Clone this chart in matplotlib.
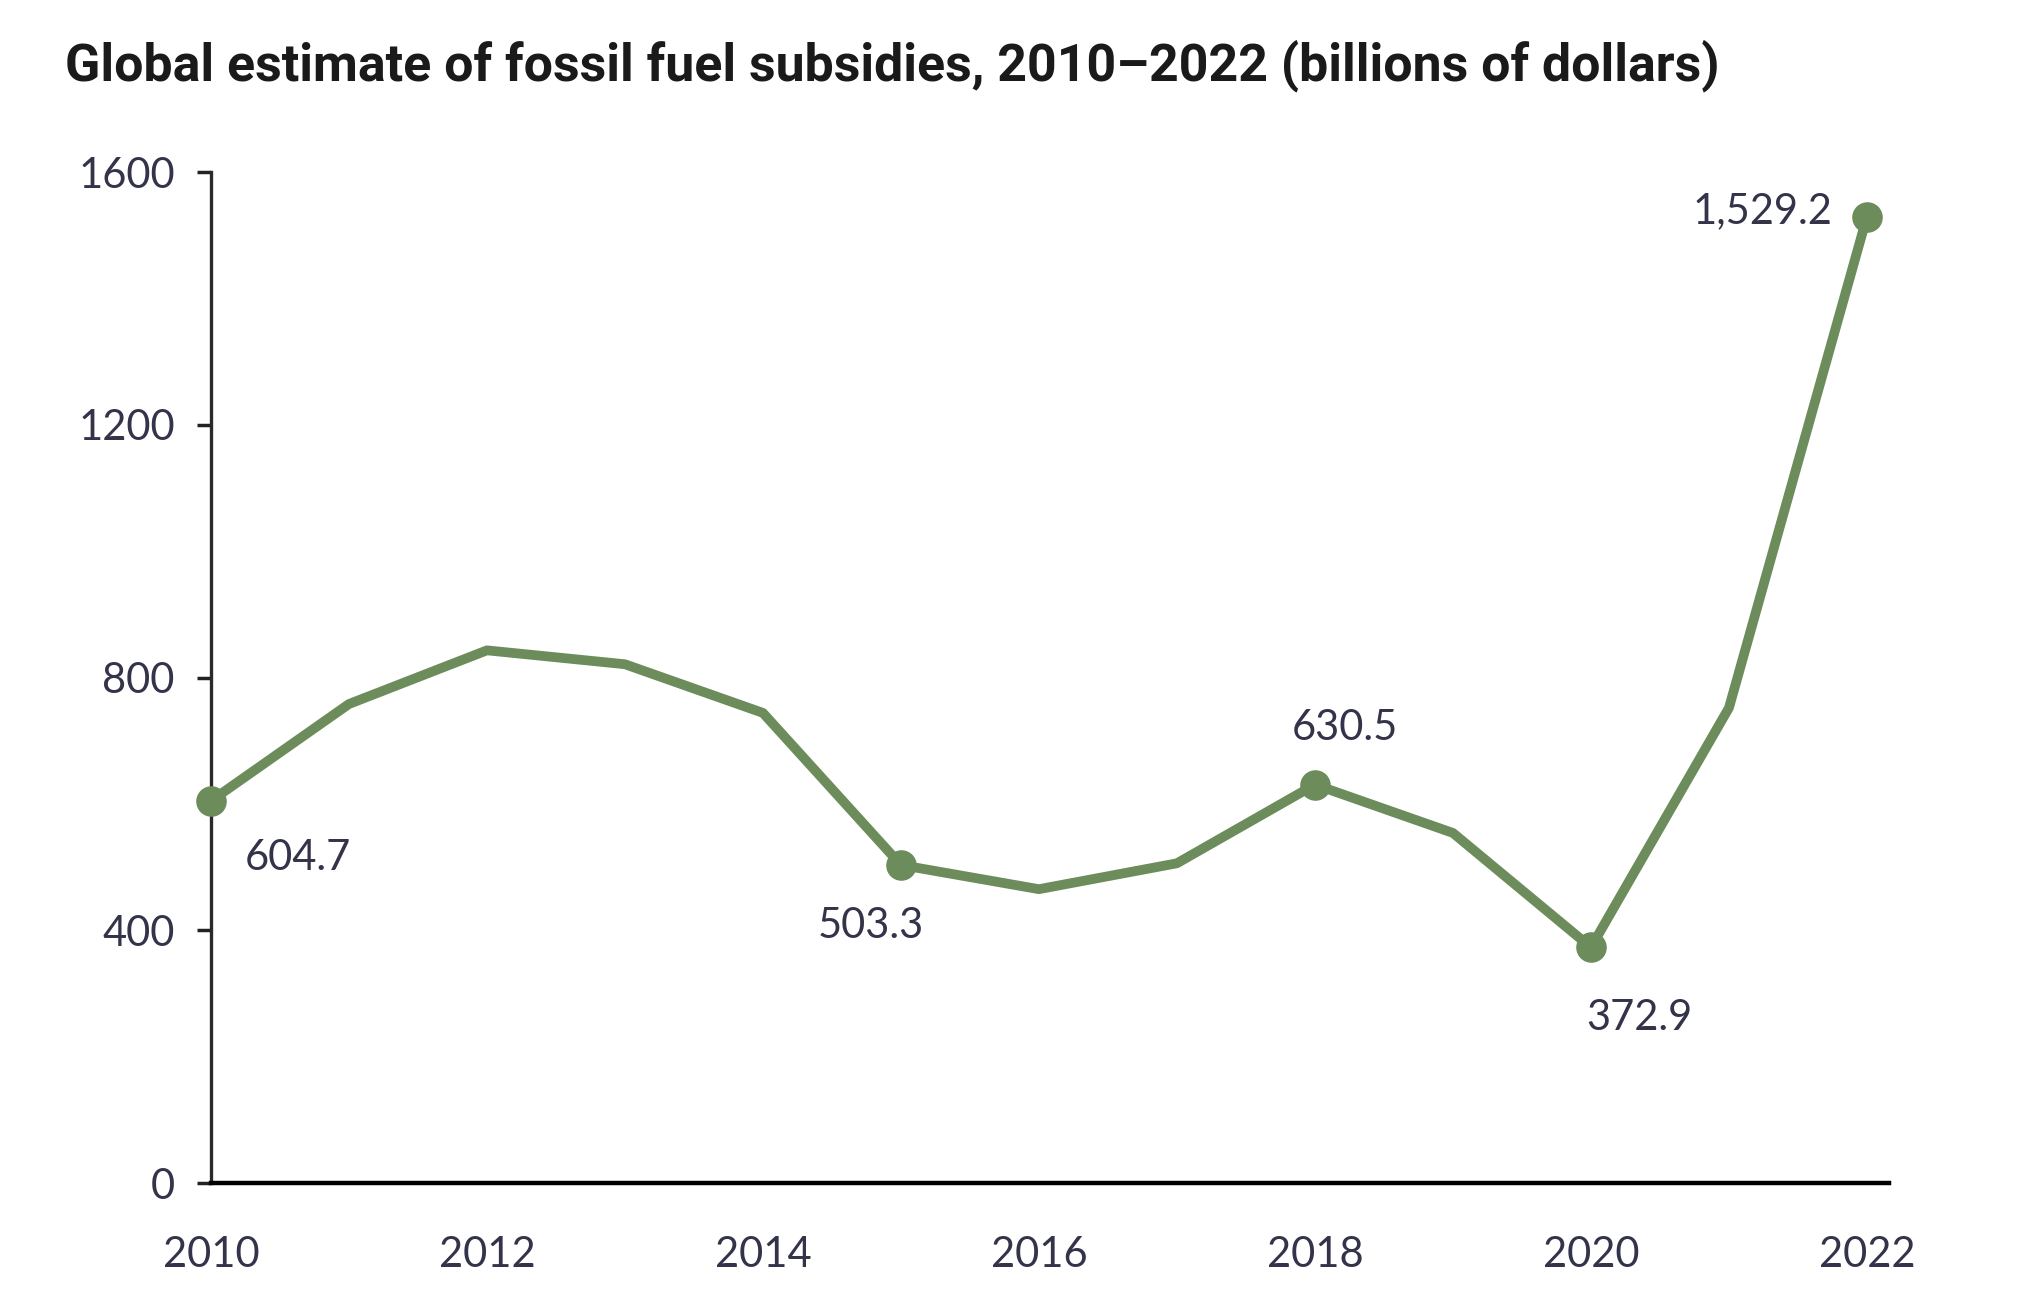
import matplotlib
matplotlib.use("Agg")
import matplotlib.pyplot as plt

years = [2010, 2011, 2012, 2013, 2014, 2015, 2016, 2017, 2018, 2019, 2020, 2021, 2022]
subsidies = [604.7, 758, 843, 821, 744, 503.3, 465, 506, 630.5, 554, 372.9, 752, 1529.2]

x_ticks = [2010, 2012, 2014, 2016, 2018, 2020, 2022]
y_ticks = [0, 400, 800, 1200, 1600]

labelled_years = [2010, 2015, 2018, 2020, 2022]
label_texts = ["604.7", "503.3", "630.5", "372.9", "1,529.2"]

title = "Global estimate of fossil fuel subsidies, 2010\u20132022 (billions of dollars)"

GREEN = "#6d8c5b"
TXT = "#33334a"

fig = plt.figure(figsize=(20.26, 13.13), dpi=100)
ax = fig.add_axes([0.1041, 0.099, 0.9324 - 0.1041, 0.869 - 0.099])

num_font = ["Lato", "DejaVu Sans"]
NUM_SIZE = 30
NUM_WEIGHT = "normal"

ax.plot(years, subsidies, color=GREEN, lw=7, solid_joinstyle="round",
        solid_capstyle="round", zorder=3)
mk_x = [y for y in years if y in labelled_years]
mk_y = [v for y, v in zip(years, subsidies) if y in labelled_years]
ax.plot(mk_x, mk_y, "o", color=GREEN, ms=21, zorder=4, clip_on=False)

offsets = {
    2010: ((24.5, -41), "left"),
    2015: ((-22, -44), "center"),
    2018: ((21.6, 41), "center"),
    2020: ((35, -51), "center"),
    2022: ((-25, 4), "right"),
}
for yr, txt in zip(labelled_years, label_texts):
    val = subsidies[years.index(yr)]
    off, ha = offsets[yr]
    ax.annotate(txt, (yr, val), xytext=off, textcoords="offset points",
                ha=ha, va="center", fontsize=NUM_SIZE, fontweight=NUM_WEIGHT,
                color=TXT, family=num_font)

ax.set_xlim(2010, 2022.16)
ax.set_ylim(0, 1600)
ax.set_xticks(x_ticks)
ax.set_xticklabels([str(t) for t in x_ticks])
ax.set_yticks(y_ticks)
ax.set_yticklabels([str(t) for t in y_ticks])

for s in ["top", "right"]:
    ax.spines[s].set_visible(False)
ax.spines["left"].set_color("#2a2a2a")
ax.spines["left"].set_linewidth(2.4)
ax.spines["bottom"].set_color("black")
ax.spines["bottom"].set_linewidth(3.2)
ax.spines["bottom"].set_zorder(5)

ax.tick_params(axis="y", length=10, width=2.5, color="#222222", pad=16,
               labelsize=NUM_SIZE, labelcolor=TXT)
ax.tick_params(axis="x", length=0, pad=38, labelsize=NUM_SIZE, labelcolor=TXT)
for lab in ax.get_xticklabels() + ax.get_yticklabels():
    lab.set_family(num_font)
    lab.set_fontweight(NUM_WEIGHT)

fig.text(0.032, 0.950, title, fontsize=37.4, fontweight="bold", color="#1a1a1a",
         ha="left", va="center", family=["Roboto", "DejaVu Sans"])

fig.savefig("out.png", dpi=100, facecolor="white")
